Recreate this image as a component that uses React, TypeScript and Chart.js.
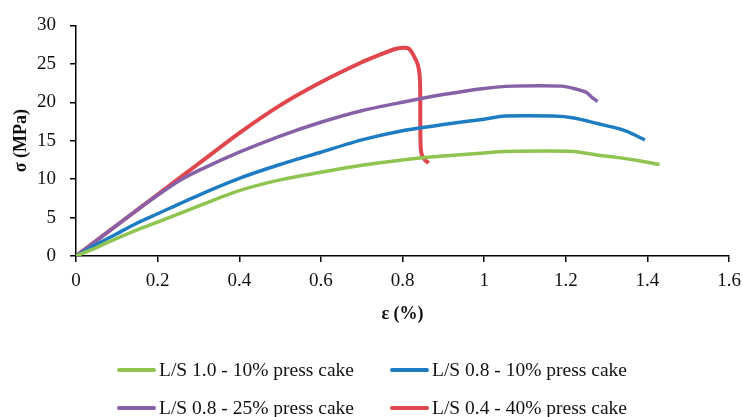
import React, { useEffect, useRef } from "react";
import { Chart, registerables } from "chart.js";

Chart.register(...registerables);

const seriesLabels = [
  "L/S 1.0 - 10% press cake",
  "L/S 0.8 - 10% press cake",
  "L/S 0.8 - 25% press cake",
  "L/S 0.4 - 40% press cake",
];
const seriesColors = ["#8FC450", "#1E7DC2", "#8761A8", "#E0474C"];

const strainA = [0, 0.05, 0.1, 0.15, 0.2, 0.3, 0.4, 0.5, 0.6, 0.7, 0.8, 0.9, 1.0, 1.05, 1.22, 1.28, 1.33, 1.38, 1.43];
const stressA = [0, 1.1, 2.3, 3.4, 4.4, 6.5, 8.5, 9.9, 10.9, 11.8, 12.5, 13.0, 13.4, 13.6, 13.6, 13.1, 12.8, 12.4, 11.9];

const strainB = [0, 0.05, 0.1, 0.15, 0.2, 0.3, 0.4, 0.5, 0.6, 0.7, 0.8, 0.9, 1.0, 1.05, 1.17, 1.22, 1.28, 1.32, 1.35, 1.394];
const stressB = [0, 1.5, 2.9, 4.3, 5.5, 7.9, 10.1, 11.9, 13.5, 15.1, 16.3, 17.1, 17.8, 18.2, 18.2, 17.95, 17.2, 16.7, 16.2, 15.1];

const strainC = [0, 0.05, 0.1, 0.15, 0.2, 0.25, 0.3, 0.4, 0.5, 0.6, 0.7, 0.8, 0.9, 1.0, 1.07, 1.19, 1.22, 1.25, 1.265, 1.278];
const stressC = [0, 2.0, 4.0, 6.0, 7.9, 9.7, 11.1, 13.5, 15.6, 17.4, 18.9, 20.0, 21.0, 21.8, 22.1, 22.1, 21.8, 21.3, 20.6, 20.1];

const strainD = [0, 0.05, 0.1, 0.2, 0.3, 0.4, 0.5, 0.6, 0.7, 0.745, 0.78, 0.8, 0.815, 0.826, 0.838, 0.843, 0.844, 0.847, 0.855, 0.864];
const stressD = [0, 2.0, 4.0, 8.0, 12.0, 16.0, 19.6, 22.6, 25.2, 26.2, 26.9, 27.1, 27.0, 26.2, 24.8, 22.6, 15.0, 13.2, 12.5, 12.1];

const strains = [strainA, strainB, strainC, strainD];
const stresses = [stressA, stressB, stressC, stressD];

const xTitle = "ε (%)";
const yTitle = "σ (MPa)";

const FONT = "'Liberation Serif', 'Times New Roman', serif";

export default function App() {
  const ref = useRef<HTMLCanvasElement | null>(null);

  useEffect(() => {
    if (!ref.current) return;
    const datasets = seriesLabels.map((label, i) => ({
      label,
      data: strains[i].map((x, j) => ({ x, y: stresses[i][j] })),
      borderColor: seriesColors[i],
      backgroundColor: seriesColors[i],
      borderWidth: i === 3 ? 4 : 3.5,
      pointRadius: 0,
      tension: 0.25,
      fill: false,
    }));
    const chart = new Chart(ref.current, {
      type: "line",
      data: { datasets },
      options: {
        animation: false,
        responsive: false,
        maintainAspectRatio: false,
        layout: { padding: { left: 0, right: 14, top: 23, bottom: 87 } },
        plugins: { legend: { display: false }, tooltip: { enabled: false } },
        scales: {
          x: {
            type: "linear",
            min: 0,
            max: 1.6,
            afterFit: (s: any) => {
              s.height = 74;
              s.paddingRight = 0;
              s.paddingLeft = 0;
            },
            ticks: {
              stepSize: 0.2,
              padding: 8,
              color: "#111",
              font: { family: FONT, size: 19 },
              callback: (v: any) => String(Number(Number(v).toFixed(1))),
            },
            grid: { drawOnChartArea: false, drawTicks: true, tickLength: 6, color: "#000", lineWidth: 1.5 },
            border: { display: true, color: "#000", width: 1.5 },
            title: {
              display: true,
              text: xTitle,
              color: "#111",
              font: { family: FONT, size: 18, weight: "bold" },
              padding: { top: 0, bottom: 5 },
            },
          },
          y: {
            type: "linear",
            min: 0,
            max: 30,
            afterFit: (s: any) => {
              s.width = 76;
            },
            ticks: {
              stepSize: 5,
              padding: 14,
              color: "#111",
              font: { family: FONT, size: 19 },
            },
            grid: { drawOnChartArea: false, drawTicks: true, tickLength: 6, color: "#000", lineWidth: 1.5 },
            border: { display: true, color: "#000", width: 1.5 },
            title: {
              display: true,
              text: yTitle,
              color: "#111",
              font: { family: FONT, size: 18, weight: "bold" },
              padding: { top: 11, bottom: 0 },
            },
          },
        },
      },
    });
    return () => chart.destroy();
  }, []);

  const legendPos = [
    { left: 117, top: 370 },
    { left: 390, top: 370 },
    { left: 117, top: 408 },
    { left: 390, top: 408 },
  ];

  return (
    <div style={{ position: "absolute", left: 0, top: 0, width: 743, height: 417, background: "#fff" }}>
      <canvas ref={ref} width={743} height={417} style={{ width: 743, height: 417, display: "block" }} />
      {seriesLabels.map((label, i) => (
        <div
          key={label}
          style={{
            position: "absolute",
            left: legendPos[i].left,
            top: legendPos[i].top - 12,
            height: 24,
            display: "flex",
            alignItems: "center",
            whiteSpace: "nowrap",
            fontFamily: FONT,
            fontSize: 19.5,
            color: "#111",
          }}
        >
          <span style={{ display: "inline-block", width: 39, height: 4, background: seriesColors[i], marginRight: 3, borderRadius: 2 }} />
          <span>{label}</span>
        </div>
      ))}
    </div>
  );
}
